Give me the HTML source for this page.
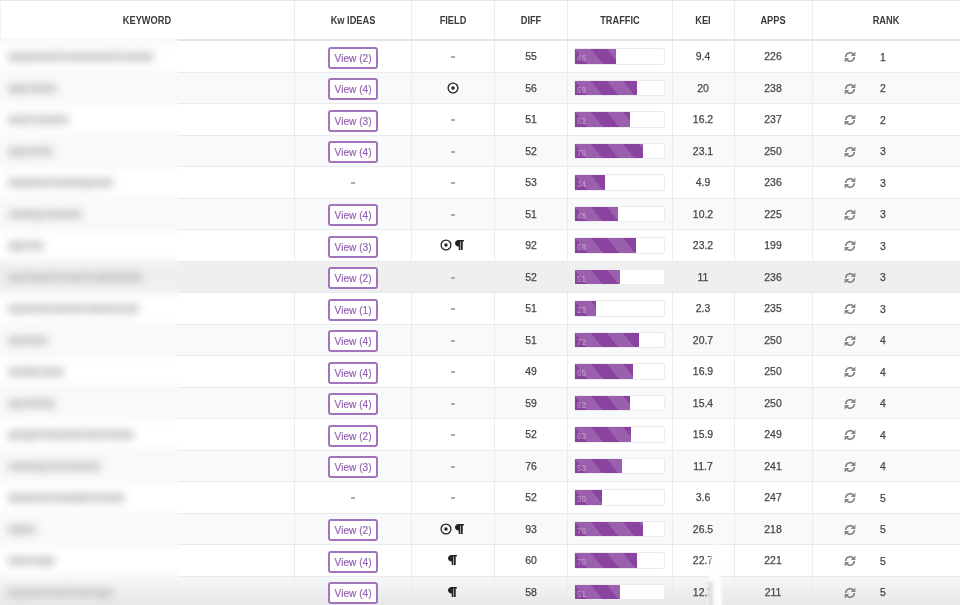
<!DOCTYPE html><html><head><meta charset="utf-8"><style>
*{margin:0;padding:0;box-sizing:border-box}
html,body{width:960px;height:605px;overflow:hidden;background:#fff}
body{position:relative;font-family:"Liberation Sans",sans-serif;color:#444}
.a{position:absolute}
.rowbg{position:absolute;left:0;width:960px}
.hl{position:absolute;left:0;width:960px;height:1px;background:#e9eaec}
.vl{position:absolute;top:0;width:1px;height:605px;background:#ececee}
.th{position:absolute;top:14px;height:12px;line-height:12px;font-size:10.5px;font-weight:bold;color:#3a3a3a;white-space:nowrap;text-align:center;width:120px;margin-left:-60px;transform:scaleX(.88)}
.td.dash{color:#8a8a8a;-webkit-text-stroke:0}
.td{position:absolute;height:12px;line-height:12px;font-size:11px;color:#454545;white-space:nowrap;text-align:center;width:60px;margin-left:-30px;transform:scaleX(.95);-webkit-text-stroke:.25px #454545}
.btn{position:absolute;width:50px;height:22.2px;margin-left:-25px;border:2px solid #a274bc;border-radius:3px;color:#9563b0;font-size:11px;line-height:19px;text-align:center;white-space:nowrap;background:#fff}
.btn span{display:inline-block;transform:scaleX(.92);-webkit-text-stroke:.2px #9563b0}
.prog{position:absolute;left:574px;width:90.5px;height:16.5px;border:1px solid #ececee;border-radius:2px;background:#fff}
.bar{position:absolute;left:0;top:0;height:14.5px;background-color:#8a449f;background-image:linear-gradient(to top right,rgba(255,255,255,.15) 25%,transparent 25%,transparent 50%,rgba(255,255,255,.15) 50%,rgba(255,255,255,.15) 75%,transparent 75%,transparent);background-size:32px 40px}
.bar span{position:absolute;left:1.9px;top:3.8px;font-size:9.5px;line-height:10px;color:rgba(255,255,255,.42);transform:scaleX(.85);transform-origin:0 0}
.kwt{position:absolute;left:8px;height:14px;line-height:14px;font-size:12px;white-space:nowrap;transform-origin:0 0;color:#a8a8a8}
.kw{position:absolute;left:7px;height:9px;background:#dcdcdc;border-radius:2px}
.blur{position:absolute;left:0;top:38px;width:178px;height:567px;overflow:hidden}
.blurin{position:absolute;left:0;top:-38px;width:178px;height:605px;filter:blur(4.2px)}
.ref{position:absolute;width:12px;height:12px}
</style></head><body><div id="w" style="position:absolute;left:0;top:0;width:960px;height:605px;overflow:hidden;filter:blur(0.35px)"><div class="rowbg" style="top:72.47px;height:31.5px;background:#f8f9fb"></div>
<div class="rowbg" style="top:135.47px;height:31.5px;background:#f8f9fb"></div>
<div class="rowbg" style="top:198.47px;height:31.5px;background:#f8f9fb"></div>
<div class="rowbg" style="top:261.47px;height:31.5px;background:#efefef"></div>
<div class="rowbg" style="top:324.47px;height:31.5px;background:#f8f9fb"></div>
<div class="rowbg" style="top:387.47px;height:31.5px;background:#f8f9fb"></div>
<div class="rowbg" style="top:450.47px;height:31.5px;background:#f8f9fb"></div>
<div class="rowbg" style="top:513.47px;height:31.5px;background:#f8f9fb"></div>
<div class="rowbg" style="top:576.47px;height:31.5px;background:linear-gradient(#f6f7f9,#e6e6e8)"></div>
<div class="hl" style="top:0;background:#e6e6e6"></div>
<div class="vl" style="left:0;background:#f2f2f2"></div>
<div class="hl" style="top:39.4px;height:2px;background:#e4e4e6"></div>
<div class="hl" style="top:71.97px"></div>
<div class="hl" style="top:103.47px"></div>
<div class="hl" style="top:134.97px"></div>
<div class="hl" style="top:166.47px"></div>
<div class="hl" style="top:197.97px"></div>
<div class="hl" style="top:229.47px"></div>
<div class="hl" style="top:260.97px"></div>
<div class="hl" style="top:292.47px"></div>
<div class="hl" style="top:323.97px"></div>
<div class="hl" style="top:355.47px"></div>
<div class="hl" style="top:386.97px"></div>
<div class="hl" style="top:418.47px"></div>
<div class="hl" style="top:449.97px"></div>
<div class="hl" style="top:481.47px"></div>
<div class="hl" style="top:512.97px"></div>
<div class="hl" style="top:544.47px"></div>
<div class="hl" style="top:575.97px"></div>
<div class="vl" style="left:294px"></div>
<div class="vl" style="left:410.5px"></div>
<div class="vl" style="left:494px"></div>
<div class="vl" style="left:566.5px"></div>
<div class="vl" style="left:672px"></div>
<div class="vl" style="left:733.5px"></div>
<div class="vl" style="left:812.2px"></div>
<div class="th" style="left:147.25px">KEYWORD</div>
<div class="th" style="left:352.75px">Kw IDEAS</div>
<div class="th" style="left:452.75px">FIELD</div>
<div class="th" style="left:530.75px">DIFF</div>
<div class="th" style="left:619.75px">TRAFFIC</div>
<div class="th" style="left:703.25px">KEI</div>
<div class="th" style="left:773.35px">APPS</div>
<div class="th" style="left:886.35px">RANK</div>
<div class="btn" style="left:352.75px;top:46.72px"><span>View (2)</span></div>
<div class="a" style="left:450.65px;top:56px;width:4.2px;height:1.8px;background:#ababab"></div>
<div class="td" style="left:530.75px;top:50.32px">55</div>
<div class="prog" style="top:48.22px"><div class="bar" style="width:41.03px"><span>46</span></div></div>
<div class="td" style="left:703.25px;top:50.32px">9.4</div>
<div class="td" style="left:773.35px;top:50.32px">226</div>
<svg class="a" style="left:844.2px;top:51.32px" width="12" height="12" viewBox="0 0 12 12"><path d="M1.7 6.0A4.3 4.3 0 0 1 9.4 3.4" fill="none" stroke="#848484" stroke-width="1.6"/><path d="M11.4 0.4V5.0H6.8Z" fill="#848484"/><path d="M10.3 6.0A4.3 4.3 0 0 1 2.6 8.6" fill="none" stroke="#848484" stroke-width="1.6"/><path d="M0.6 11.6V7.0H5.2Z" fill="#848484"/></svg>
<div class="td" style="left:883.3px;top:50.52px">1</div>
<div class="btn" style="left:352.75px;top:78.22px"><span>View (4)</span></div>
<svg class="a" style="left:446.75px;top:81.82px" width="12" height="12" viewBox="0 0 12 12"><circle cx="6" cy="6" r="4.9" fill="none" stroke="#222" stroke-width="1.3"/><circle cx="6" cy="6" r="1.7" fill="#222"/></svg>
<div class="td" style="left:530.75px;top:81.82px">56</div>
<div class="prog" style="top:79.72px"><div class="bar" style="width:61.55px"><span>69</span></div></div>
<div class="td" style="left:703.25px;top:81.82px">20</div>
<div class="td" style="left:773.35px;top:81.82px">238</div>
<svg class="a" style="left:844.2px;top:82.82px" width="12" height="12" viewBox="0 0 12 12"><path d="M1.7 6.0A4.3 4.3 0 0 1 9.4 3.4" fill="none" stroke="#848484" stroke-width="1.6"/><path d="M11.4 0.4V5.0H6.8Z" fill="#848484"/><path d="M10.3 6.0A4.3 4.3 0 0 1 2.6 8.6" fill="none" stroke="#848484" stroke-width="1.6"/><path d="M0.6 11.6V7.0H5.2Z" fill="#848484"/></svg>
<div class="td" style="left:883.3px;top:82.02px">2</div>
<div class="btn" style="left:352.75px;top:109.72px"><span>View (3)</span></div>
<div class="a" style="left:450.65px;top:119px;width:4.2px;height:1.8px;background:#ababab"></div>
<div class="td" style="left:530.75px;top:113.32px">51</div>
<div class="prog" style="top:111.22px"><div class="bar" style="width:55.3px"><span>62</span></div></div>
<div class="td" style="left:703.25px;top:113.32px">16.2</div>
<div class="td" style="left:773.35px;top:113.32px">237</div>
<svg class="a" style="left:844.2px;top:114.32px" width="12" height="12" viewBox="0 0 12 12"><path d="M1.7 6.0A4.3 4.3 0 0 1 9.4 3.4" fill="none" stroke="#848484" stroke-width="1.6"/><path d="M11.4 0.4V5.0H6.8Z" fill="#848484"/><path d="M10.3 6.0A4.3 4.3 0 0 1 2.6 8.6" fill="none" stroke="#848484" stroke-width="1.6"/><path d="M0.6 11.6V7.0H5.2Z" fill="#848484"/></svg>
<div class="td" style="left:883.3px;top:113.52px">2</div>
<div class="btn" style="left:352.75px;top:141.22px"><span>View (4)</span></div>
<div class="a" style="left:450.65px;top:151px;width:4.2px;height:1.8px;background:#ababab"></div>
<div class="td" style="left:530.75px;top:144.82px">52</div>
<div class="prog" style="top:142.72px"><div class="bar" style="width:67.79px"><span>76</span></div></div>
<div class="td" style="left:703.25px;top:144.82px">23.1</div>
<div class="td" style="left:773.35px;top:144.82px">250</div>
<svg class="a" style="left:844.2px;top:145.82px" width="12" height="12" viewBox="0 0 12 12"><path d="M1.7 6.0A4.3 4.3 0 0 1 9.4 3.4" fill="none" stroke="#848484" stroke-width="1.6"/><path d="M11.4 0.4V5.0H6.8Z" fill="#848484"/><path d="M10.3 6.0A4.3 4.3 0 0 1 2.6 8.6" fill="none" stroke="#848484" stroke-width="1.6"/><path d="M0.6 11.6V7.0H5.2Z" fill="#848484"/></svg>
<div class="td" style="left:883.3px;top:145.02px">3</div>
<div class="a" style="left:350.65px;top:182px;width:4.2px;height:1.8px;background:#ababab"></div>
<div class="a" style="left:450.65px;top:182px;width:4.2px;height:1.8px;background:#ababab"></div>
<div class="td" style="left:530.75px;top:176.32px">53</div>
<div class="prog" style="top:174.22px"><div class="bar" style="width:30.33px"><span>34</span></div></div>
<div class="td" style="left:703.25px;top:176.32px">4.9</div>
<div class="td" style="left:773.35px;top:176.32px">236</div>
<svg class="a" style="left:844.2px;top:177.32px" width="12" height="12" viewBox="0 0 12 12"><path d="M1.7 6.0A4.3 4.3 0 0 1 9.4 3.4" fill="none" stroke="#848484" stroke-width="1.6"/><path d="M11.4 0.4V5.0H6.8Z" fill="#848484"/><path d="M10.3 6.0A4.3 4.3 0 0 1 2.6 8.6" fill="none" stroke="#848484" stroke-width="1.6"/><path d="M0.6 11.6V7.0H5.2Z" fill="#848484"/></svg>
<div class="td" style="left:883.3px;top:176.52px">3</div>
<div class="btn" style="left:352.75px;top:204.22px"><span>View (4)</span></div>
<div class="a" style="left:450.65px;top:214px;width:4.2px;height:1.8px;background:#ababab"></div>
<div class="td" style="left:530.75px;top:207.82px">51</div>
<div class="prog" style="top:205.72px"><div class="bar" style="width:42.82px"><span>48</span></div></div>
<div class="td" style="left:703.25px;top:207.82px">10.2</div>
<div class="td" style="left:773.35px;top:207.82px">225</div>
<svg class="a" style="left:844.2px;top:208.82px" width="12" height="12" viewBox="0 0 12 12"><path d="M1.7 6.0A4.3 4.3 0 0 1 9.4 3.4" fill="none" stroke="#848484" stroke-width="1.6"/><path d="M11.4 0.4V5.0H6.8Z" fill="#848484"/><path d="M10.3 6.0A4.3 4.3 0 0 1 2.6 8.6" fill="none" stroke="#848484" stroke-width="1.6"/><path d="M0.6 11.6V7.0H5.2Z" fill="#848484"/></svg>
<div class="td" style="left:883.3px;top:208.02px">3</div>
<div class="btn" style="left:352.75px;top:235.72px"><span>View (3)</span></div>
<svg class="a" style="left:440.3px;top:239.32px" width="12" height="12" viewBox="0 0 12 12"><circle cx="6" cy="6" r="4.9" fill="none" stroke="#222" stroke-width="1.3"/><circle cx="6" cy="6" r="1.7" fill="#222"/></svg>
<svg class="a" style="left:454.5px;top:240.02px" width="10" height="11" viewBox="0 0 10 11"><path d="M3.5 0H8.9V1.5H7.7V10.1H6.0V1.5H5.4V10.1H3.7V6.5H3.5C1.5 6.5 0 5.0 0 3.25C0 1.45 1.5 0 3.5 0Z" fill="#222"/></svg>
<div class="td" style="left:530.75px;top:239.32px">92</div>
<div class="prog" style="top:237.22px"><div class="bar" style="width:60.66px"><span>68</span></div></div>
<div class="td" style="left:703.25px;top:239.32px">23.2</div>
<div class="td" style="left:773.35px;top:239.32px">199</div>
<svg class="a" style="left:844.2px;top:240.32px" width="12" height="12" viewBox="0 0 12 12"><path d="M1.7 6.0A4.3 4.3 0 0 1 9.4 3.4" fill="none" stroke="#848484" stroke-width="1.6"/><path d="M11.4 0.4V5.0H6.8Z" fill="#848484"/><path d="M10.3 6.0A4.3 4.3 0 0 1 2.6 8.6" fill="none" stroke="#848484" stroke-width="1.6"/><path d="M0.6 11.6V7.0H5.2Z" fill="#848484"/></svg>
<div class="td" style="left:883.3px;top:239.52px">3</div>
<div class="btn" style="left:352.75px;top:267.22px"><span>View (2)</span></div>
<div class="a" style="left:450.65px;top:277px;width:4.2px;height:1.8px;background:#ababab"></div>
<div class="td" style="left:530.75px;top:270.82px">52</div>
<div class="prog" style="top:268.72px"><div class="bar" style="width:45.49px"><span>51</span></div></div>
<div class="td" style="left:703.25px;top:270.82px">11</div>
<div class="td" style="left:773.35px;top:270.82px">236</div>
<svg class="a" style="left:844.2px;top:271.82px" width="12" height="12" viewBox="0 0 12 12"><path d="M1.7 6.0A4.3 4.3 0 0 1 9.4 3.4" fill="none" stroke="#848484" stroke-width="1.6"/><path d="M11.4 0.4V5.0H6.8Z" fill="#848484"/><path d="M10.3 6.0A4.3 4.3 0 0 1 2.6 8.6" fill="none" stroke="#848484" stroke-width="1.6"/><path d="M0.6 11.6V7.0H5.2Z" fill="#848484"/></svg>
<div class="td" style="left:883.3px;top:271.02px">3</div>
<div class="btn" style="left:352.75px;top:298.72px"><span>View (1)</span></div>
<div class="a" style="left:450.65px;top:308px;width:4.2px;height:1.8px;background:#ababab"></div>
<div class="td" style="left:530.75px;top:302.32px">51</div>
<div class="prog" style="top:300.22px"><div class="bar" style="width:20.52px"><span>23</span></div></div>
<div class="td" style="left:703.25px;top:302.32px">2.3</div>
<div class="td" style="left:773.35px;top:302.32px">235</div>
<svg class="a" style="left:844.2px;top:303.32px" width="12" height="12" viewBox="0 0 12 12"><path d="M1.7 6.0A4.3 4.3 0 0 1 9.4 3.4" fill="none" stroke="#848484" stroke-width="1.6"/><path d="M11.4 0.4V5.0H6.8Z" fill="#848484"/><path d="M10.3 6.0A4.3 4.3 0 0 1 2.6 8.6" fill="none" stroke="#848484" stroke-width="1.6"/><path d="M0.6 11.6V7.0H5.2Z" fill="#848484"/></svg>
<div class="td" style="left:883.3px;top:302.52px">3</div>
<div class="btn" style="left:352.75px;top:330.22px"><span>View (4)</span></div>
<div class="a" style="left:450.65px;top:340px;width:4.2px;height:1.8px;background:#ababab"></div>
<div class="td" style="left:530.75px;top:333.82px">51</div>
<div class="prog" style="top:331.72px"><div class="bar" style="width:64.22px"><span>72</span></div></div>
<div class="td" style="left:703.25px;top:333.82px">20.7</div>
<div class="td" style="left:773.35px;top:333.82px">250</div>
<svg class="a" style="left:844.2px;top:334.82px" width="12" height="12" viewBox="0 0 12 12"><path d="M1.7 6.0A4.3 4.3 0 0 1 9.4 3.4" fill="none" stroke="#848484" stroke-width="1.6"/><path d="M11.4 0.4V5.0H6.8Z" fill="#848484"/><path d="M10.3 6.0A4.3 4.3 0 0 1 2.6 8.6" fill="none" stroke="#848484" stroke-width="1.6"/><path d="M0.6 11.6V7.0H5.2Z" fill="#848484"/></svg>
<div class="td" style="left:883.3px;top:334.02px">4</div>
<div class="btn" style="left:352.75px;top:361.72px"><span>View (4)</span></div>
<div class="a" style="left:450.65px;top:371px;width:4.2px;height:1.8px;background:#ababab"></div>
<div class="td" style="left:530.75px;top:365.32px">49</div>
<div class="prog" style="top:363.22px"><div class="bar" style="width:57.98px"><span>65</span></div></div>
<div class="td" style="left:703.25px;top:365.32px">16.9</div>
<div class="td" style="left:773.35px;top:365.32px">250</div>
<svg class="a" style="left:844.2px;top:366.32px" width="12" height="12" viewBox="0 0 12 12"><path d="M1.7 6.0A4.3 4.3 0 0 1 9.4 3.4" fill="none" stroke="#848484" stroke-width="1.6"/><path d="M11.4 0.4V5.0H6.8Z" fill="#848484"/><path d="M10.3 6.0A4.3 4.3 0 0 1 2.6 8.6" fill="none" stroke="#848484" stroke-width="1.6"/><path d="M0.6 11.6V7.0H5.2Z" fill="#848484"/></svg>
<div class="td" style="left:883.3px;top:365.52px">4</div>
<div class="btn" style="left:352.75px;top:393.22px"><span>View (4)</span></div>
<div class="a" style="left:450.65px;top:403px;width:4.2px;height:1.8px;background:#ababab"></div>
<div class="td" style="left:530.75px;top:396.82px">59</div>
<div class="prog" style="top:394.72px"><div class="bar" style="width:55.3px"><span>62</span></div></div>
<div class="td" style="left:703.25px;top:396.82px">15.4</div>
<div class="td" style="left:773.35px;top:396.82px">250</div>
<svg class="a" style="left:844.2px;top:397.82px" width="12" height="12" viewBox="0 0 12 12"><path d="M1.7 6.0A4.3 4.3 0 0 1 9.4 3.4" fill="none" stroke="#848484" stroke-width="1.6"/><path d="M11.4 0.4V5.0H6.8Z" fill="#848484"/><path d="M10.3 6.0A4.3 4.3 0 0 1 2.6 8.6" fill="none" stroke="#848484" stroke-width="1.6"/><path d="M0.6 11.6V7.0H5.2Z" fill="#848484"/></svg>
<div class="td" style="left:883.3px;top:397.02px">4</div>
<div class="btn" style="left:352.75px;top:424.72px"><span>View (2)</span></div>
<div class="a" style="left:450.65px;top:434px;width:4.2px;height:1.8px;background:#ababab"></div>
<div class="td" style="left:530.75px;top:428.32px">52</div>
<div class="prog" style="top:426.22px"><div class="bar" style="width:56.2px"><span>63</span></div></div>
<div class="td" style="left:703.25px;top:428.32px">15.9</div>
<div class="td" style="left:773.35px;top:428.32px">249</div>
<svg class="a" style="left:844.2px;top:429.32px" width="12" height="12" viewBox="0 0 12 12"><path d="M1.7 6.0A4.3 4.3 0 0 1 9.4 3.4" fill="none" stroke="#848484" stroke-width="1.6"/><path d="M11.4 0.4V5.0H6.8Z" fill="#848484"/><path d="M10.3 6.0A4.3 4.3 0 0 1 2.6 8.6" fill="none" stroke="#848484" stroke-width="1.6"/><path d="M0.6 11.6V7.0H5.2Z" fill="#848484"/></svg>
<div class="td" style="left:883.3px;top:428.52px">4</div>
<div class="btn" style="left:352.75px;top:456.22px"><span>View (3)</span></div>
<div class="a" style="left:450.65px;top:466px;width:4.2px;height:1.8px;background:#ababab"></div>
<div class="td" style="left:530.75px;top:459.82px">76</div>
<div class="prog" style="top:457.72px"><div class="bar" style="width:47.28px"><span>53</span></div></div>
<div class="td" style="left:703.25px;top:459.82px">11.7</div>
<div class="td" style="left:773.35px;top:459.82px">241</div>
<svg class="a" style="left:844.2px;top:460.82px" width="12" height="12" viewBox="0 0 12 12"><path d="M1.7 6.0A4.3 4.3 0 0 1 9.4 3.4" fill="none" stroke="#848484" stroke-width="1.6"/><path d="M11.4 0.4V5.0H6.8Z" fill="#848484"/><path d="M10.3 6.0A4.3 4.3 0 0 1 2.6 8.6" fill="none" stroke="#848484" stroke-width="1.6"/><path d="M0.6 11.6V7.0H5.2Z" fill="#848484"/></svg>
<div class="td" style="left:883.3px;top:460.02px">4</div>
<div class="a" style="left:350.65px;top:497px;width:4.2px;height:1.8px;background:#ababab"></div>
<div class="a" style="left:450.65px;top:497px;width:4.2px;height:1.8px;background:#ababab"></div>
<div class="td" style="left:530.75px;top:491.32px">52</div>
<div class="prog" style="top:489.22px"><div class="bar" style="width:26.76px"><span>30</span></div></div>
<div class="td" style="left:703.25px;top:491.32px">3.6</div>
<div class="td" style="left:773.35px;top:491.32px">247</div>
<svg class="a" style="left:844.2px;top:492.32px" width="12" height="12" viewBox="0 0 12 12"><path d="M1.7 6.0A4.3 4.3 0 0 1 9.4 3.4" fill="none" stroke="#848484" stroke-width="1.6"/><path d="M11.4 0.4V5.0H6.8Z" fill="#848484"/><path d="M10.3 6.0A4.3 4.3 0 0 1 2.6 8.6" fill="none" stroke="#848484" stroke-width="1.6"/><path d="M0.6 11.6V7.0H5.2Z" fill="#848484"/></svg>
<div class="td" style="left:883.3px;top:491.52px">5</div>
<div class="btn" style="left:352.75px;top:519.22px"><span>View (2)</span></div>
<svg class="a" style="left:440.3px;top:522.82px" width="12" height="12" viewBox="0 0 12 12"><circle cx="6" cy="6" r="4.9" fill="none" stroke="#222" stroke-width="1.3"/><circle cx="6" cy="6" r="1.7" fill="#222"/></svg>
<svg class="a" style="left:454.5px;top:523.52px" width="10" height="11" viewBox="0 0 10 11"><path d="M3.5 0H8.9V1.5H7.7V10.1H6.0V1.5H5.4V10.1H3.7V6.5H3.5C1.5 6.5 0 5.0 0 3.25C0 1.45 1.5 0 3.5 0Z" fill="#222"/></svg>
<div class="td" style="left:530.75px;top:522.82px">93</div>
<div class="prog" style="top:520.72px"><div class="bar" style="width:67.79px"><span>76</span></div></div>
<div class="td" style="left:703.25px;top:522.82px">26.5</div>
<div class="td" style="left:773.35px;top:522.82px">218</div>
<svg class="a" style="left:844.2px;top:523.82px" width="12" height="12" viewBox="0 0 12 12"><path d="M1.7 6.0A4.3 4.3 0 0 1 9.4 3.4" fill="none" stroke="#848484" stroke-width="1.6"/><path d="M11.4 0.4V5.0H6.8Z" fill="#848484"/><path d="M10.3 6.0A4.3 4.3 0 0 1 2.6 8.6" fill="none" stroke="#848484" stroke-width="1.6"/><path d="M0.6 11.6V7.0H5.2Z" fill="#848484"/></svg>
<div class="td" style="left:883.3px;top:523.02px">5</div>
<div class="btn" style="left:352.75px;top:550.72px"><span>View (4)</span></div>
<svg class="a" style="left:448.25px;top:555.02px" width="10" height="11" viewBox="0 0 10 11"><path d="M3.5 0H8.9V1.5H7.7V10.1H6.0V1.5H5.4V10.1H3.7V6.5H3.5C1.5 6.5 0 5.0 0 3.25C0 1.45 1.5 0 3.5 0Z" fill="#222"/></svg>
<div class="td" style="left:530.75px;top:554.32px">60</div>
<div class="prog" style="top:552.22px"><div class="bar" style="width:62.44px"><span>70</span></div></div>
<div class="td" style="left:703.25px;top:554.32px">22.7</div>
<div class="td" style="left:773.35px;top:554.32px">221</div>
<svg class="a" style="left:844.2px;top:555.32px" width="12" height="12" viewBox="0 0 12 12"><path d="M1.7 6.0A4.3 4.3 0 0 1 9.4 3.4" fill="none" stroke="#848484" stroke-width="1.6"/><path d="M11.4 0.4V5.0H6.8Z" fill="#848484"/><path d="M10.3 6.0A4.3 4.3 0 0 1 2.6 8.6" fill="none" stroke="#848484" stroke-width="1.6"/><path d="M0.6 11.6V7.0H5.2Z" fill="#848484"/></svg>
<div class="td" style="left:883.3px;top:554.52px">5</div>
<div class="btn" style="left:352.75px;top:582.22px"><span>View (4)</span></div>
<svg class="a" style="left:448.25px;top:586.52px" width="10" height="11" viewBox="0 0 10 11"><path d="M3.5 0H8.9V1.5H7.7V10.1H6.0V1.5H5.4V10.1H3.7V6.5H3.5C1.5 6.5 0 5.0 0 3.25C0 1.45 1.5 0 3.5 0Z" fill="#222"/></svg>
<div class="td" style="left:530.75px;top:585.82px">58</div>
<div class="prog" style="top:583.72px"><div class="bar" style="width:45.49px"><span>51</span></div></div>
<div class="td" style="left:703.25px;top:585.82px">12.2</div>
<div class="td" style="left:773.35px;top:585.82px">211</div>
<svg class="a" style="left:844.2px;top:586.82px" width="12" height="12" viewBox="0 0 12 12"><path d="M1.7 6.0A4.3 4.3 0 0 1 9.4 3.4" fill="none" stroke="#848484" stroke-width="1.6"/><path d="M11.4 0.4V5.0H6.8Z" fill="#848484"/><path d="M10.3 6.0A4.3 4.3 0 0 1 2.6 8.6" fill="none" stroke="#848484" stroke-width="1.6"/><path d="M0.6 11.6V7.0H5.2Z" fill="#848484"/></svg>
<div class="td" style="left:883.3px;top:586.02px">5</div>
<div class="blur"><div class="blurin">
<div class="a" style="left:0;top:0;width:178px;height:605px;background:#fff"></div>
<div class="a" style="left:-10px;width:200px;top:40.97px;height:31.5px;background:#fff"></div>
<div class="a" style="left:-10px;width:200px;top:72.47px;height:31.5px;background:#f8f9fb"></div>
<div class="a" style="left:-10px;width:200px;top:103.97px;height:31.5px;background:#fff"></div>
<div class="a" style="left:-10px;width:200px;top:135.47px;height:31.5px;background:#f8f9fb"></div>
<div class="a" style="left:-10px;width:200px;top:166.97px;height:31.5px;background:#fff"></div>
<div class="a" style="left:-10px;width:200px;top:198.47px;height:31.5px;background:#f8f9fb"></div>
<div class="a" style="left:-10px;width:200px;top:229.97px;height:31.5px;background:#fff"></div>
<div class="a" style="left:-10px;width:200px;top:261.47px;height:31.5px;background:#efefef"></div>
<div class="a" style="left:-10px;width:200px;top:292.97px;height:31.5px;background:#fff"></div>
<div class="a" style="left:-10px;width:200px;top:324.47px;height:31.5px;background:#f8f9fb"></div>
<div class="a" style="left:-10px;width:200px;top:355.97px;height:31.5px;background:#fff"></div>
<div class="a" style="left:-10px;width:200px;top:387.47px;height:31.5px;background:#f8f9fb"></div>
<div class="a" style="left:-10px;width:200px;top:418.97px;height:31.5px;background:#fff"></div>
<div class="a" style="left:-10px;width:200px;top:450.47px;height:31.5px;background:#f8f9fb"></div>
<div class="a" style="left:-10px;width:200px;top:481.97px;height:31.5px;background:#fff"></div>
<div class="a" style="left:-10px;width:200px;top:513.47px;height:31.5px;background:#f8f9fb"></div>
<div class="a" style="left:-10px;width:200px;top:544.97px;height:31.5px;background:#fff"></div>
<div class="a" style="left:-10px;width:200px;top:576.47px;height:31.5px;background:linear-gradient(#f6f7f9,#e6e6e8)"></div>
<div class="a" style="left:-10px;width:200px;top:39.57px;height:2px;background:#e4e4e6"></div>
<div class="a" style="left:-10px;width:200px;top:71.97px;height:1px;background:#e9eaec"></div>
<div class="a" style="left:-10px;width:200px;top:103.47px;height:1px;background:#e9eaec"></div>
<div class="a" style="left:-10px;width:200px;top:134.97px;height:1px;background:#e9eaec"></div>
<div class="a" style="left:-10px;width:200px;top:166.47px;height:1px;background:#e9eaec"></div>
<div class="a" style="left:-10px;width:200px;top:197.97px;height:1px;background:#e9eaec"></div>
<div class="a" style="left:-10px;width:200px;top:229.47px;height:1px;background:#e9eaec"></div>
<div class="a" style="left:-10px;width:200px;top:260.97px;height:1px;background:#e9eaec"></div>
<div class="a" style="left:-10px;width:200px;top:292.47px;height:1px;background:#e9eaec"></div>
<div class="a" style="left:-10px;width:200px;top:323.97px;height:1px;background:#e9eaec"></div>
<div class="a" style="left:-10px;width:200px;top:355.47px;height:1px;background:#e9eaec"></div>
<div class="a" style="left:-10px;width:200px;top:386.97px;height:1px;background:#e9eaec"></div>
<div class="a" style="left:-10px;width:200px;top:418.47px;height:1px;background:#e9eaec"></div>
<div class="a" style="left:-10px;width:200px;top:449.97px;height:1px;background:#e9eaec"></div>
<div class="a" style="left:-10px;width:200px;top:481.47px;height:1px;background:#e9eaec"></div>
<div class="a" style="left:-10px;width:200px;top:512.97px;height:1px;background:#e9eaec"></div>
<div class="a" style="left:-10px;width:200px;top:544.47px;height:1px;background:#e9eaec"></div>
<div class="a" style="left:-10px;width:200px;top:575.97px;height:1px;background:#e9eaec"></div>
<div class="kw" style="left:8px;top:52.12px;width:145.5px"></div>
<div class="kwt" style="top:49.72px;transform:scaleX(1.179)">keyword research tools</div>
<div class="kw" style="left:8px;top:83.62px;width:48.5px"></div>
<div class="kwt" style="top:81.22px;transform:scaleX(0.969)">app store</div>
<div class="kw" style="left:8px;top:115.12px;width:60.5px"></div>
<div class="kwt" style="top:112.72px;transform:scaleX(1.260)">aso tools</div>
<div class="kw" style="left:8px;top:146.62px;width:44.5px"></div>
<div class="kwt" style="top:144.22px;transform:scaleX(0.953)">app rank</div>
<div class="kw" style="left:8px;top:178.12px;width:104.5px"></div>
<div class="kwt" style="top:175.72px;transform:scaleX(0.949)">keyword ranking tool</div>
<div class="kw" style="left:8px;top:209.62px;width:73.5px"></div>
<div class="kwt" style="top:207.22px;transform:scaleX(0.868)">ranking checker</div>
<div class="kw" style="left:8px;top:241.12px;width:35.5px"></div>
<div class="kwt" style="top:238.72px;transform:scaleX(0.831)">app seo</div>
<div class="kw" style="left:8px;top:272.62px;width:134.5px"></div>
<div class="kwt" style="top:270.22px;transform:scaleX(0.770)">app keyword search optimization</div>
<div class="kw" style="left:8px;top:304.12px;width:130.5px"></div>
<div class="kwt" style="top:301.72px;transform:scaleX(0.877)">keyword search volume tool</div>
<div class="kw" style="left:8px;top:335.62px;width:39.5px"></div>
<div class="kwt" style="top:333.22px;transform:scaleX(0.759)">app ideas</div>
<div class="kw" style="left:8px;top:367.12px;width:55.5px"></div>
<div class="kwt" style="top:364.72px;transform:scaleX(0.849)">mobile store</div>
<div class="kw" style="left:8px;top:398.62px;width:46.5px"></div>
<div class="kwt" style="top:396.22px;transform:scaleX(0.711)">app tracking</div>
<div class="kw" style="left:8px;top:430.12px;width:125.5px"></div>
<div class="kwt" style="top:427.72px;transform:scaleX(0.896)">google keyword tool finder</div>
<div class="kw" style="left:8px;top:461.62px;width:92.5px"></div>
<div class="kwt" style="top:459.22px;transform:scaleX(0.906)">ranking tool tracker</div>
<div class="kw" style="left:8px;top:493.12px;width:116.5px"></div>
<div class="kwt" style="top:490.72px;transform:scaleX(0.944)">keyword analytics tools</div>
<div class="kw" style="left:8px;top:524.62px;width:27.5px"></div>
<div class="kwt" style="top:522.22px;transform:scaleX(1.056)">apps</div>
<div class="kw" style="left:8px;top:556.12px;width:46.5px"></div>
<div class="kwt" style="top:553.72px;transform:scaleX(0.929)">store app</div>
<div class="kw" style="left:8px;top:587.62px;width:104.5px"></div>
<div class="kwt" style="top:585.22px;transform:scaleX(0.890)">keyword rank tool app</div>
</div></div>
<div class="a" style="left:700px;top:540px;width:30px;height:70px;filter:blur(1.2px)"><div class="a" style="left:0;top:0;width:30px;height:70px;background:#fdfdfd;clip-path:polygon(12px 6px,20px 4px,22px 70px,6px 70px,9px 40px)"></div><div class="a" style="left:6px;top:42px;width:9px;height:28px;background:linear-gradient(90deg,rgba(215,215,217,0),rgba(215,215,217,.9) 50%,rgba(215,215,217,0))"></div></div>
</div></body></html>
